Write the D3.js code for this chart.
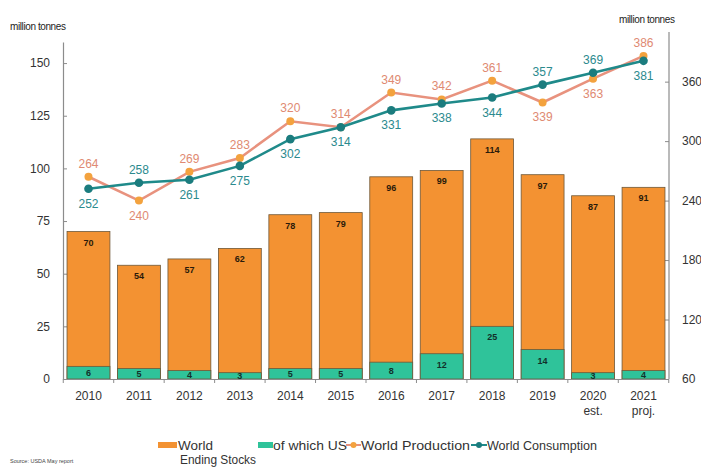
<!DOCTYPE html>
<html>
<head>
<meta charset="utf-8">
<script src="https://cdn.jsdelivr.net/npm/d3@7/dist/d3.min.js"></script>
<style>
  html, body { margin: 0; padding: 0; background: #fff; }
  svg { display: block; font-family: Arial, "Liberation Sans", sans-serif; }
</style>
</head>
<body>
<svg id="chart" width="701" height="468"></svg>
<script>
// Sugar balance: ending stocks (bars, left axis) and production/consumption (lines, right axis)
const years = ["2010", "2011", "2012", "2013", "2014", "2015", "2016", "2017", "2018", "2019", "2020", "2021"];
const yearNotes = ["", "", "", "", "", "", "", "", "", "", "est.", "proj."];
const endingStocks = [70, 54, 57, 62, 78, 79, 96, 99, 114, 97, 87, 91];
const usStocks = [6, 5, 4, 3, 5, 5, 8, 12, 25, 14, 3, 4];
const production = [264, 240, 269, 283, 320, 314, 349, 342, 361, 339, 363, 386];
const consumption = [252, 258, 261, 275, 302, 314, 331, 338, 344, 357, 369, 381];
// label placement for line values: 1 = above the point, -1 = below
const productionLabelSide = [1, -1, 1, 1, 1, 1, 1, 1, 1, -1, -1, 1];
const consumptionLabelSide = [-1, 1, -1, -1, -1, -1, -1, -1, -1, 1, 1, -1];
const leftTicks = [0, 25, 50, 75, 100, 125, 150];
const rightTicks = [60, 120, 180, 240, 300, 360];

const svg = d3.select("#chart");
const plot = { left: 63, right: 669, top: 42, bottom: 379 };

const colors = {
  stocks: "#f39232",
  us: "#2fc39a",
  barStroke: "#6e5838",
  prodLine: "#e8927e",
  prodDot: "#f3a23e",
  prodText: "#e08a72",
  consLine: "#1f8a8a",
  consDot: "#1b7c7e",
  consText: "#2b8a8e",
  axis: "#8c8c8c",
  text: "#333"
};

const x = d3.scaleBand().domain(years).range([plot.left, plot.right]).paddingInner(0.15).paddingOuter(0.08);
const yL = d3.scaleLinear().domain([0, 160]).range([plot.bottom, plot.top]);
const yR = d3.scaleLinear().domain([60, 400]).range([plot.bottom, plot.top]);

// Axes
const leftAxis = d3.axisLeft(yL).tickValues(leftTicks).tickSizeInner(-4).tickSizeOuter(0).tickPadding(13);
const gL = svg.append("g").attr("transform", `translate(${plot.left},0)`).call(leftAxis);
gL.select(".domain").attr("stroke", colors.axis).attr("stroke-width", 1.2);
gL.selectAll(".tick line").attr("stroke", colors.axis);
gL.selectAll(".tick text").attr("font-size", 12).attr("fill", colors.text);

const rightAxis = d3.axisRight(yR).tickValues(rightTicks).tickSizeInner(-4).tickSizeOuter(0).tickPadding(13);
const gR = svg.append("g").attr("transform", `translate(${plot.right},0)`).call(rightAxis);
gR.select(".domain").attr("stroke", colors.axis).attr("stroke-width", 1.2)
  .attr("d", `M0,${plot.top - 10}V${plot.bottom}`);
gR.selectAll(".tick line").attr("stroke", colors.axis);
gR.selectAll(".tick text").attr("font-size", 12).attr("fill", colors.text);

// Bars
const bars = svg.append("g");
years.forEach((yr, i) => {
  bars.append("rect")
    .attr("x", x(yr)).attr("width", x.bandwidth())
    .attr("y", yL(endingStocks[i])).attr("height", yL(0) - yL(endingStocks[i]))
    .attr("fill", colors.stocks).attr("stroke", colors.barStroke).attr("stroke-width", 0.8);
  bars.append("rect")
    .attr("x", x(yr)).attr("width", x.bandwidth())
    .attr("y", yL(usStocks[i])).attr("height", yL(0) - yL(usStocks[i]))
    .attr("fill", colors.us).attr("stroke", colors.barStroke).attr("stroke-width", 0.8);
  bars.append("text")
    .attr("x", x(yr) + x.bandwidth() / 2).attr("y", yL(endingStocks[i]) + 14)
    .attr("text-anchor", "middle").attr("font-size", 9).attr("font-weight", "bold").attr("fill", "#2a1a0a")
    .text(endingStocks[i]);
  const usMid = (yL(usStocks[i]) + yL(0)) / 2;
  bars.append("text")
    .attr("x", x(yr) + x.bandwidth() / 2)
    .attr("y", usStocks[i] >= 10 ? yL(usStocks[i]) + 14 : usMid + 3.5)
    .attr("text-anchor", "middle").attr("font-size", 9).attr("font-weight", "bold").attr("fill", "#12302a")
    .text(usStocks[i]);
});

// X axis baseline and ticks between categories
const xAxis = svg.append("g");
xAxis.append("line").attr("x1", plot.left).attr("x2", plot.right)
  .attr("y1", plot.bottom + 0.5).attr("y2", plot.bottom + 0.5).attr("stroke", colors.axis).attr("stroke-width", 1.2);
const step = x.step();
d3.range(years.length + 1).forEach(k => {
  const xb = x(years[0]) - step * x.paddingInner() / 2 + k * step;
  xAxis.append("line").attr("x1", xb).attr("x2", xb).attr("y1", plot.bottom).attr("y2", plot.bottom + 4)
    .attr("stroke", colors.axis);
});
years.forEach((yr, i) => {
  const cx = x(yr) + x.bandwidth() / 2;
  xAxis.append("text").attr("x", cx).attr("y", 400).attr("text-anchor", "middle")
    .attr("font-size", 12).attr("fill", colors.text).text(yr);
  if (yearNotes[i]) {
    xAxis.append("text").attr("x", cx).attr("y", 415).attr("text-anchor", "middle")
      .attr("font-size", 12).attr("fill", colors.text).text(yearNotes[i]);
  }
});

// Lines
const cxOf = yr => x(yr) + x.bandwidth() / 2;
function drawSeries(values, lineColor, dotColor, textColor, sides, r) {
  const line = d3.line().x((d, i) => cxOf(years[i])).y(d => yR(d));
  svg.append("path").datum(values).attr("d", line)
    .attr("fill", "none").attr("stroke", lineColor).attr("stroke-width", 2.6);
  svg.append("g").selectAll("circle").data(values).join("circle")
    .attr("cx", (d, i) => cxOf(years[i])).attr("cy", d => yR(d)).attr("r", r)
    .attr("fill", dotColor);
  svg.append("g").selectAll("text").data(values).join("text")
    .attr("x", (d, i) => cxOf(years[i]))
    .attr("y", (d, i) => sides[i] > 0 ? yR(d) - 9 : yR(d) + 19)
    .attr("text-anchor", "middle").attr("font-size", 12).attr("fill", textColor)
    .text(d => d);
}
drawSeries(production, colors.prodLine, colors.prodDot, colors.prodText, productionLabelSide, 4);
drawSeries(consumption, colors.consLine, colors.consDot, colors.consText, consumptionLabelSide, 4.3);

// Axis titles
svg.append("text").attr("x", 10).attr("y", 30).attr("font-size", 10).attr("fill", "#222")
  .attr("letter-spacing", -0.4).text("million tonnes");
svg.append("text").attr("x", 619).attr("y", 23).attr("font-size", 10).attr("fill", "#222")
  .attr("letter-spacing", -0.4).text("million tonnes");

// Legend
const lg = svg.append("g").attr("font-size", 12).attr("fill", colors.text);
function legendText(tx, ty, str, width) {
  lg.append("text").attr("x", tx).attr("y", ty).attr("fill", colors.text)
    .attr("textLength", width).attr("lengthAdjust", "spacingAndGlyphs").text(str);
}
lg.append("rect").attr("x", 158).attr("y", 442).attr("width", 19).attr("height", 6).attr("fill", colors.stocks);
legendText(178, 450, "World", 35);
legendText(180, 464, "Ending Stocks", 76);
lg.append("rect").attr("x", 258).attr("y", 442).attr("width", 15).attr("height", 6).attr("fill", colors.us);
legendText(273, 450, "of which US", 74);
lg.append("line").attr("x1", 346).attr("x2", 361).attr("y1", 445).attr("y2", 445)
  .attr("stroke", colors.prodLine).attr("stroke-width", 2);
lg.append("circle").attr("cx", 353.5).attr("cy", 445).attr("r", 3).attr("fill", colors.prodDot);
legendText(361, 450, "World Production", 109);
lg.append("line").attr("x1", 471).attr("x2", 487).attr("y1", 445).attr("y2", 445)
  .attr("stroke", colors.consLine).attr("stroke-width", 2);
lg.append("circle").attr("cx", 479).attr("cy", 445).attr("r", 3).attr("fill", colors.consDot);
legendText(487, 450, "World Consumption", 110);

// Source note
svg.append("text").attr("x", 10).attr("y", 463).attr("font-size", 5.5).attr("fill", "#444")
  .text("Source: USDA May report");
</script>
</body>
</html>
